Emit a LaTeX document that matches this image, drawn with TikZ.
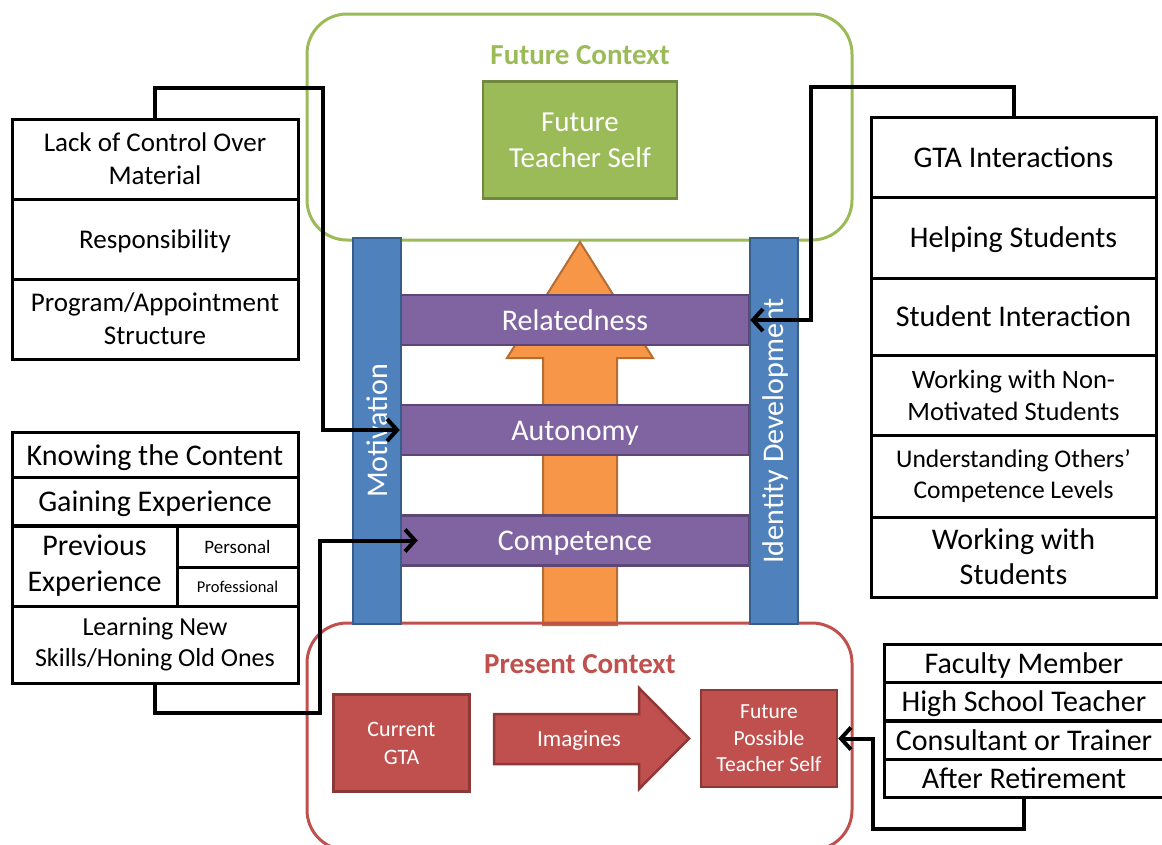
\documentclass[tikz,border=0pt]{standalone}
\usepackage{fontspec}
\setmainfont{Carlito}
\usetikzlibrary{arrows.meta,calc}
\definecolor{grn}{HTML}{9BBB59}
\definecolor{grnd}{HTML}{71893F}
\definecolor{blu}{HTML}{4F81BD}
\definecolor{blud}{HTML}{385D8A}
\definecolor{pur}{HTML}{8064A2}
\definecolor{purd}{HTML}{5C4776}
\definecolor{org}{HTML}{F79646}
\definecolor{orgd}{HTML}{B66D31}
\definecolor{red1}{HTML}{C0504D}
\definecolor{redd}{HTML}{8C3836}
\tikzset{
  cell/.style={draw=black, line width=3pt, fill=white, align=center, inner sep=0pt, font=\fontsize{30}{36}\selectfont},
  one30/.style={text height=28.6pt, text depth=8.1pt},
  one27/.style={text height=25.7pt, text depth=7.3pt},
  conn/.style={line width=4pt, line join=miter, -{Straight Barb[length=10pt,width=22pt]}},
  bar/.style={fill=blu, draw=blud, line width=2pt, inner sep=0pt, text=white, font=\fontsize{30}{36}\selectfont, one30},
  rung/.style={fill=pur, draw=purd, line width=2.5pt, inner sep=0pt, text=white, minimum width=348, minimum height=50, font=\fontsize{30}{36}\selectfont, one30},
  redbox/.style={fill=red1, draw=redd, line width=2.5pt, inner sep=0pt, text=white, align=center},
  ctx/.style={rounded corners=40pt, line width=3pt, fill=none},
}
\begin{document}
\begin{tikzpicture}[x=1pt,y=-1pt]
\useasboundingbox (0,0) rectangle (1162,844);
% future context
\draw[ctx, draw=grn] (307,14) rectangle (852,240);
\node[text=grn, font=\bfseries\fontsize{29}{34}\selectfont] (fct) at (580,55) {Future Context};
\node[fill=grn, draw=grnd, line width=2.5pt, minimum width=194, minimum height=117, text=white, align=center, inner sep=0pt, font=\fontsize{29}{36}\selectfont] (fts) at (580,140) {Future\\Teacher Self};
% orange arrow
\draw[fill=org, draw=orgd, line width=2pt, line join=miter] (543,625) -- (543,358) -- (507,358) -- (580,242) -- (653,358) -- (617,358) -- (617,625) -- cycle;
% rungs
\node[rung] (rel) at (575,320) {Relatedness};
\node[rung] (aut) at (575,430) {Autonomy};
\node[rung] (comp) at (575,540.5) {Competence};
% present context
\draw[ctx, draw=red1] (307,623) rectangle (852,850);
% bars
\node[bar, rotate=90, minimum width=386, minimum height=48] (mot) at (377,431) {Motivation};
\node[bar, rotate=90, minimum width=386, minimum height=48] (ide) at (773.5,431) {Identity Development};
\node[text=red1, font=\bfseries\fontsize{29}{34}\selectfont] (pct) at (580,664) {Present Context};
\node[redbox, minimum width=136, minimum height=97, font=\fontsize{22}{28}\selectfont] (gta) at (401.5,743) {Current\\GTA};
\draw[fill=red1, draw=redd, line width=2.5pt, line join=miter] (494,714) -- (639,714) -- (639,688) -- (689,738.5) -- (639,789) -- (639,764) -- (494,764) -- cycle;
\node[text=white, font=\fontsize{23}{28}\selectfont, text height=21.9pt, text depth=6.2pt] (img) at (579,739) {Imagines};
\node[redbox, minimum width=136, minimum height=97, font=\fontsize{21.5}{26.5}\selectfont] (fps) at (769,738.5) {Future\\Possible\\Teacher Self};
% left group 1
\node[cell, minimum width=286, minimum height=80, font=\fontsize{27}{33}\selectfont] (l1) at (155,159) {Lack of Control Over\\Material};
\node[cell, one27, minimum width=286, minimum height=80, font=\fontsize{27}{33}\selectfont] (l2) at (155,239) {Responsibility};
\node[cell, minimum width=286, minimum height=80, font=\fontsize{27}{33}\selectfont] (l3) at (155,319) {Program/Appointment\\Structure};
% left group 2
\node[cell, one30, minimum width=286, minimum height=45] (k1) at (155,455) {Knowing the Content};
\node[cell, one30, minimum width=286, minimum height=48] (k2) at (155,501.5) {Gaining Experience};
\node[cell, minimum width=165, minimum height=80, font=\fontsize{30}{36}\selectfont] (k3) at (94.5,566) {Previous\\Experience};
\node[cell, minimum width=121, minimum height=41, font=\fontsize{19}{23}\selectfont, text height=18.1pt, text depth=5.1pt] (k4) at (237.5,546.5) {Personal};
\node[cell, minimum width=121, minimum height=39, font=\fontsize{16.5}{20}\selectfont, text height=15.7pt, text depth=4.4pt] (k5) at (237.5,586.5) {Professional};
\node[cell, minimum width=286, minimum height=77, font=\fontsize{26}{31.5}\selectfont] (k6) at (155,644.5) {Learning New\\Skills/Honing Old Ones};
% right group
\node[cell, one30, minimum width=285, minimum height=80] (r1) at (1013.5,157) {GTA Interactions};
\node[cell, one30, minimum width=285, minimum height=81] (r2) at (1013.5,237.5) {Helping Students};
\node[cell, one30, minimum width=285, minimum height=77] (r3) at (1013.5,316.5) {Student Interaction};
\node[cell, minimum width=285, minimum height=80, font=\fontsize{26.5}{32}\selectfont] (r4) at (1013.5,395) {Working with Non-\\Motivated Students};
\node[cell, minimum width=285, minimum height=82, font=\fontsize{25.5}{31}\selectfont] (r5) at (1013.5,476) {Understanding Others’\\Competence Levels};
\node[cell, minimum width=285, minimum height=80, font=\fontsize{30}{35}\selectfont] (r6) at (1013.5,557) {Working with\\Students};
% bottom right group
\node[cell, one30, minimum width=280, minimum height=38] (b1) at (1024,663) {Faculty Member};
\node[cell, one30, minimum width=280, minimum height=38] (b2) at (1024,701.5) {High School Teacher};
\node[cell, one30, minimum width=280, minimum height=38] (b3) at (1024,740) {Consultant or Trainer};
\node[cell, one30, minimum width=280, minimum height=38] (b4) at (1024,778.5) {After Retirement};
% connectors
\coordinate (c1) at (323,88);
\coordinate (c2) at (320,713);
\coordinate (c3) at (811,87);
\coordinate (c4) at (873,829);
\draw[conn] (l1.north) |- (c1) |- (aut.west);
\draw[conn] (k6.south) |- (c2) |- ([xshift=18pt]comp.west);
\draw[conn] (r1.north) |- (c3) |- (rel.east);
\draw[conn] (b4.south) |- (c4) |- (fps.east);
\end{tikzpicture}
\end{document}
